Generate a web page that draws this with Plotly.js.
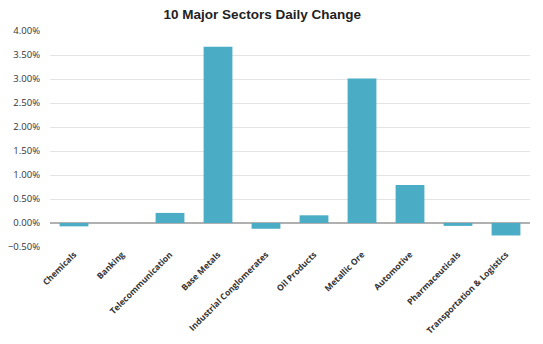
<!DOCTYPE html>
<html><head><meta charset="utf-8">
<script src="https://cdn.plot.ly/plotly-3.0.1.min.js"></script>
<style>html,body{margin:0;padding:0;background:#fff}</style>
</head><body>
<div id="chart" style="width:543px;height:344px"></div>
<script>
const sectors = ["Chemicals","Banking","Telecommunication","Base Metals","Industrial Conglomerates","Oil Products","Metallic Ore","Automotive","Pharmaceuticals","Transportation & Logistics"];
const dailyChange = [-0.0007, 0.0, 0.0021, 0.0367, -0.0012, 0.0016, 0.0301, 0.0079, -0.0006, -0.0026];
const yTicks = [-0.005,0,0.005,0.01,0.015,0.02,0.025,0.03,0.035,0.04];

Plotly.newPlot('chart', [{
  type: 'bar', x: sectors, y: dailyChange,
  marker: {color: '#4bacc6'},
  hoverinfo: 'none'
}], {
  width: 543, height: 344,
  margin: {l: 50, r: 13, t: 31, b: 97},
  paper_bgcolor: '#fff', plot_bgcolor: '#fff',
  bargap: 0.4,
  showlegend: false,
  title: {text: '<b>10 Major Sectors Daily Change</b>', x: 0.483, xanchor: 'center', y: 0.958, yanchor: 'middle',
          font: {family: 'Liberation Sans, Arial', size: 13.5, color: '#222'}},
  xaxis: {tickangle: -45, tickfont: {family: 'Open Sans', size: 8.5, color: '#333', weight: 'bold'},
          showgrid: false, zeroline: false, showline: false, ticks: ''},
  yaxis: {range: [-0.005, 0.04], tickvals: yTicks, tickformat: '.2%',
          tickfont: {family: 'Open Sans', size: 9.5, color: '#333'},
          gridcolor: '#e4e4e4', gridwidth: 1, zeroline: true, zerolinecolor: '#b0b0b0', zerolinewidth: 1.3,
          ticks: '', ticklabelstandoff: 9, showline: false}
}, {displayModeBar: false, staticPlot: true});
</script>
</body></html>
